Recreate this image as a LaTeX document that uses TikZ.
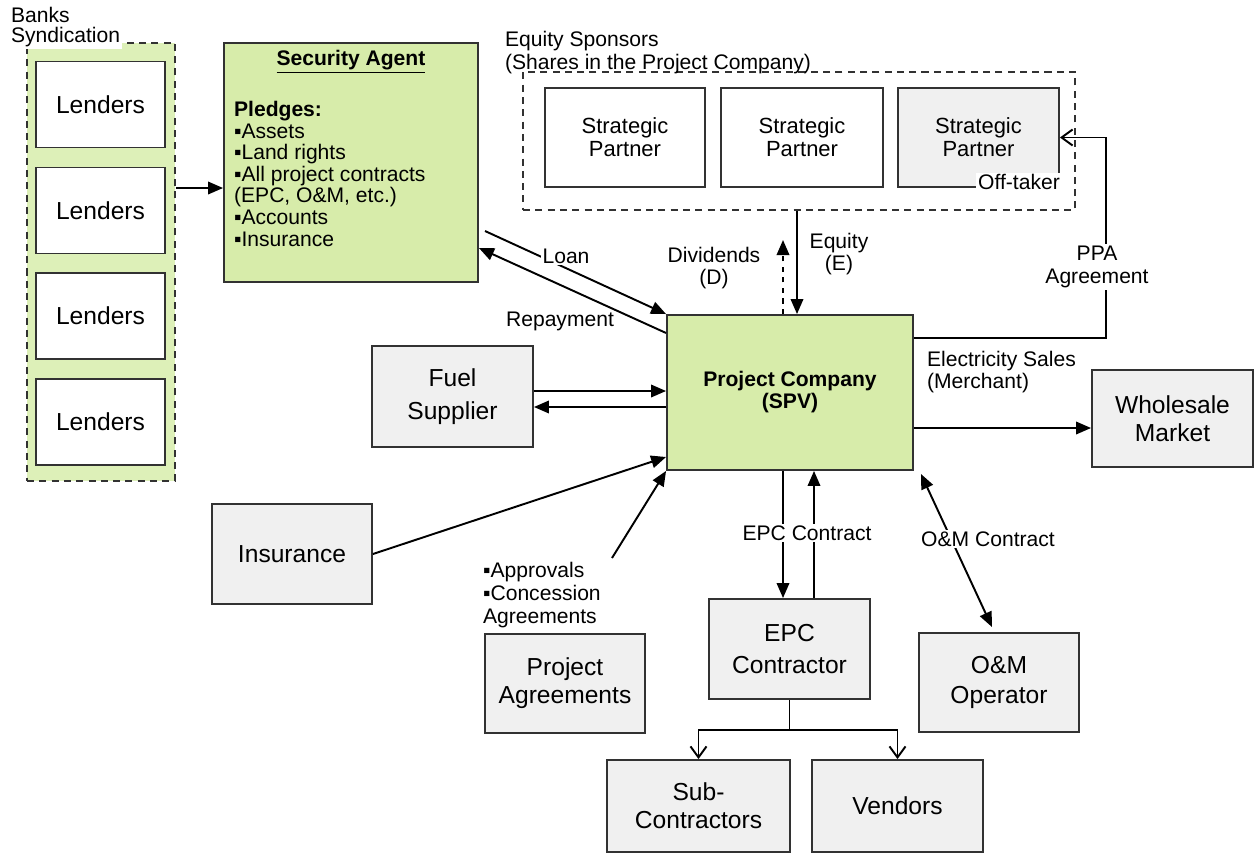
\documentclass[tikz,border=0pt]{standalone}
\usepackage{fontspec}
\setmainfont{Liberation Sans}
\usetikzlibrary{arrows.meta}
\definecolor{spvgreen}{RGB}{215,236,170}
\definecolor{syndgreen}{RGB}{221,240,184}
\definecolor{boxgrey}{RGB}{240,240,240}
\definecolor{edgegrey}{RGB}{50,50,50}
\tikzset{
    every node/.style={font=\fontsize{14}{16}\selectfont, align=center, inner sep=1pt},
    box/.style={rectangle, draw=edgegrey, line width=1.1pt, fill=boxgrey, minimum width=3.2cm, minimum height=2cm},
    whitebox/.style={box, fill=white},
    greenbox/.style={box, fill=spvgreen},
    groupbox/.style={rectangle, draw=edgegrey, line width=1.1pt, dash pattern=on 4pt off 3pt},
    lbl/.style={font=\fontsize{12}{13}\selectfont},
    arr/.style={line width=1.1pt, draw=black, -{Triangle[length=0.3cm,width=0.25cm]}},
    arrboth/.style={line width=1.1pt, {Triangle[length=0.3cm,width=0.25cm]}-{Triangle[length=0.3cm,width=0.25cm]}},
    barb/.style={line width=1.1pt, -{Straight Barb[length=0.22cm,width=0.32cm]}}
}

\begin{document}
\begin{tikzpicture}[x=0.02cm, y=-0.02cm]
        \useasboundingbox (0,0) rectangle (1254,852);
        % banks syndication
        \node (synd) [groupbox, fill=syndgreen, minimum width=2.96cm, minimum height=8.76cm] at (101,262) {};
        \node (lend1) [whitebox, minimum width=2.58cm, minimum height=1.72cm] at (100.5,104.5) {Lenders};
        \node (lend2) [whitebox, minimum width=2.58cm, minimum height=1.72cm] at (100.5,210.5) {Lenders};
        \node (lend3) [whitebox, minimum width=2.58cm, minimum height=1.72cm] at (100.5,316) {Lenders};
        \node (lend4) [whitebox, minimum width=2.58cm, minimum height=1.72cm] at (100.5,422) {Lenders};
        \node (syndlbl) [fill=white, align=left, anchor=south west, font=\fontsize{12}{11.5}\selectfont] at (9,49) {Banks\\Syndication};
        % security agent
        \node (sa) [greenbox, minimum width=5.08cm, minimum height=4.78cm] at (351,162.5) {};
        \node (satitle) [font=\bfseries\fontsize{12}{13}\selectfont] at (351,62) {\underline{Security Agent}};
        \node (salist) [anchor=north west, align=left, font=\fontsize{12}{12.3}\selectfont] at (232,99) {\textbf{Pledges:}\\▪Assets\\▪Land rights\\▪All project contracts\\(EPC, O\&M, etc.)\\▪Accounts\\▪Insurance};
        % equity sponsors
        \node (eqs) [groupbox, minimum width=11.04cm, minimum height=2.76cm] at (799,141) {};
        \node (eqslbl) [lbl, anchor=south west, align=left] at (503,76) {Equity Sponsors\\(Shares in the Project Company)};
        \node (sp1) [whitebox, minimum height=1.98cm, font=\fontsize{12.5}{13}\selectfont] at (625,137.5) {Strategic\\Partner};
        \node (sp2) [whitebox, minimum width=3.24cm, minimum height=1.98cm, font=\fontsize{12.5}{13}\selectfont] at (802,137.5) {Strategic\\Partner};
        \node (sp3) [box, minimum width=3.22cm, minimum height=1.98cm, font=\fontsize{12.5}{13}\selectfont] at (978.5,137.5) {Strategic\\Partner};
        \node (offtaker) [lbl, fill=white] at (1019,182) {Off-taker};
        % project company and the rest
        \node (spv) [greenbox, minimum width=4.92cm, minimum height=3.1cm, font=\bfseries\fontsize{12}{12.5}\selectfont] at (790,392.5) {Project Company\\(SPV)};
        \node (fuel) [box, minimum width=3.22cm, minimum height=2.02cm, font=\fontsize{14}{18.5}\selectfont] at (452.5,396.5) {Fuel\\Supplier};
        \node (ins) [box] at (292,554) {Insurance};
        \node (pa) [box, minimum height=1.98cm] at (565,683.5) {Project\\Agreements};
        \node (epc) [box, minimum width=3.22cm, font=\fontsize{14}{18.5}\selectfont] at (789.5,649) {EPC\\Contractor};
        \node (om) [box, minimum height=1.98cm, font=\fontsize{14}{17}\selectfont] at (999,682.5) {O\&M\\Operator};
        \node (wm) [box, minimum width=3.22cm, minimum height=1.94cm] at (1172.5,418.5) {Wholesale\\Market};
        \node (sub) [box, minimum width=3.66cm, minimum height=1.84cm] at (698.5,806) {Sub-\\Contractors};
        \node (vend) [box, minimum width=3.42cm, minimum height=1.84cm] at (897.5,806) {Vendors};
        % free ends
        \coordinate (loanstart) at (485,231);
        \coordinate (divtop) at (783,240);
        \coordinate (eqx) at (797,0);
        \coordinate (ppaturn) at (1106,137.5);
        \coordinate (apprstart) at (612,558);
        % connectors
        \draw[arr] (synd.east |- 0,188) -- (sa.west |- 0,188);
        \draw[arr] (loanstart) -- (spv.north west);
        \draw[arr] (spv.west |- 0,333) -- (sa.east |- 0,248);
        \draw[arr, dashed] (divtop |- spv.north) -- (divtop);
        \draw[arr] (eqx |- eqs.south) -- (eqx |- spv.north);
        \draw[barb] (spv.east |- 0,338) -| (ppaturn) -- (sp3.east);
        \draw[arr] (fuel.east |- 0,391) -- (spv.west |- 0,391);
        \draw[arr] (spv.west |- 0,407) -- (fuel.east |- 0,407);
        \draw[arr] (ins.east) -- (spv.west |- 0,457);
        \draw[arr] (apprstart) -- (spv.south west);
        \draw[arr] (spv.east |- 0,428) -- (wm.west |- 0,428);
        \draw[arr] (783,0 |- spv.south) -- (783,0 |- epc.north);
        \draw[arr] (814,0 |- epc.north) -- (814,0 |- spv.south);
        \draw[arrboth] ([xshift=0.14cm,yshift=-0.06cm]spv.south east) -- ([xshift=-0.14cm,yshift=0.1cm]om.north);
        \draw[line width=1.1pt] (epc.south) -- (epc.south |- 0,730);
        \draw[barb] (epc.south |- 0,730) -| (sub.north);
        \draw[barb] (epc.south |- 0,730) -| (vend.north);
        % labels
        \node (loanlbl) [lbl, fill=white] at (566,256) {Loan};
        \node (replbl) [lbl] at (560,321) {Repayment};
        \node (divlbl) [lbl] at (714,268) {Dividends\\(D)};
        \node (eqlbl) [lbl] at (839,254) {Equity\\(E)};
        \node (ppalbl) [lbl, fill=white] at (1097,267) {PPA\\Agreement};
        \node (elbl) [lbl, anchor=west, align=left] at (925,372) {Electricity Sales\\(Merchant)};
        \node (apprlbl) [lbl, anchor=west, align=left] at (481,595) {▪Approvals\\▪Concession\\Agreements};
        \node (epclbl) [lbl, fill=white] at (807,533) {EPC Contract};
        \node (omlbl) [lbl, fill=white] at (988,539) {O\&M Contract};
\end{tikzpicture}
\end{document}
